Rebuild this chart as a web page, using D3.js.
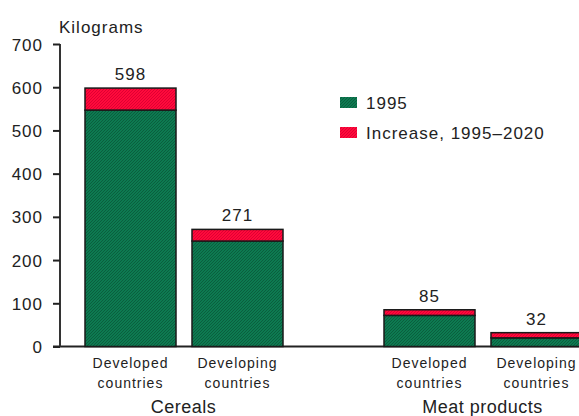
<!DOCTYPE html>
<html>
<head>
<meta charset="utf-8">
<script src="https://cdn.jsdelivr.net/npm/d3@7"></script>
<style>
  html, body { margin: 0; padding: 0; background: #fff; }
  svg { display: block; }
  text { font-family: "Liberation Sans", Arial, sans-serif; fill: #222; }
</style>
</head>
<body>
<svg id="chart" width="579" height="416"></svg>
<script>
// ---- data ----
const groups = ["Cereals", "Meat products"];
const regions = ["Developed countries", "Developing countries"];
const values1995 = [[547, 244], [72, 20]];        // per group, per region
const increase1995to2020 = [[51, 27], [13, 12]];  // per group, per region
const yTicks = [0, 100, 200, 300, 400, 500, 600, 700];
const legendLabels = ["1995", "Increase, 1995\u20132020"];

// ---- layout ----
const svg = d3.select("#chart");
const defs = svg.append("defs");

function dither(id, a, b) {
  const p = defs.append("pattern").attr("id", id).attr("patternUnits", "userSpaceOnUse")
    .attr("width", 3).attr("height", 3);
  p.append("rect").attr("width", 3).attr("height", 3).attr("fill", a);
  p.append("rect").attr("x", 0).attr("y", 0).attr("width", 1).attr("height", 1).attr("fill", b);
  p.append("rect").attr("x", 2).attr("y", 1).attr("width", 1).attr("height", 1).attr("fill", b);
  p.append("rect").attr("x", 1).attr("y", 2).attr("width", 1).attr("height", 1).attr("fill", b);
}
dither("gpat", "#0d7a51", "#0a5e3e");
dither("rpat", "#ff0a3c", "#e00032");

const y = d3.scaleLinear().domain([0, 700]).range([346.5, 44]);
const x0 = d3.scaleBand().domain(groups).range([34, 632]);
const x1 = d3.scaleBand().domain(regions).range([51, 249]).paddingInner(16 / 107);

// baseline
svg.append("line").attr("x1", 53).attr("x2", 579).attr("y1", y(0)).attr("y2", y(0))
  .attr("stroke", "#222").attr("stroke-width", 2);

// y axis
const yAxis = d3.axisLeft(y).tickValues(yTicks).tickSize(7).tickPadding(10);
const ga = svg.append("g").attr("transform", "translate(60,0)").call(yAxis);
ga.select(".domain").attr("stroke", "#333").attr("stroke-width", 2).attr("d", `M0,${y(700)}V${y(0)}`);
ga.selectAll(".tick line").attr("stroke", "#222").attr("stroke-width", 2);
ga.selectAll(".tick text").attr("font-size", 17).attr("letter-spacing", 1).attr("fill", "#222")
  .attr("font-family", "Liberation Sans, Arial, sans-serif").attr("dy", "0.36em");

svg.append("text").attr("x", 59).attr("y", 33).attr("font-size", 17).attr("letter-spacing", 1)
  .text("Kilograms");

// bars
groups.forEach((g, gi) => {
  const gx = x0(g);
  regions.forEach((r, ri) => {
    const bx = gx + x1(r);
    const bw = x1.bandwidth();
    const v = values1995[gi][ri];
    const inc = increase1995to2020[gi][ri];
    const tot = v + inc;
    svg.append("rect").attr("x", bx).attr("y", y(v)).attr("width", bw).attr("height", y(0) - y(v))
      .attr("fill", "url(#gpat)").attr("stroke", "#1a1a1a").attr("stroke-width", 1.5);
    svg.append("rect").attr("x", bx).attr("y", y(tot)).attr("width", bw).attr("height", y(v) - y(tot))
      .attr("fill", "url(#rpat)").attr("stroke", "#1a1a1a").attr("stroke-width", 1.5);
    svg.append("text").attr("x", bx + bw / 2).attr("y", y(tot) - 8).attr("text-anchor", "middle")
      .attr("font-size", 17).attr("letter-spacing", 1).text(tot);
    const words = r.split(" ");
    svg.append("text").attr("x", bx + bw / 2).attr("y", 368).attr("text-anchor", "middle")
      .attr("font-size", 14).attr("letter-spacing", 1).attr("fill", "#333").text(words[0]);
    svg.append("text").attr("x", bx + bw / 2).attr("y", 388).attr("text-anchor", "middle")
      .attr("font-size", 14).attr("letter-spacing", 1).attr("fill", "#333").text(words[1]);
  });
  svg.append("text").attr("x", gx + x0.bandwidth() / 2).attr("y", 413).attr("text-anchor", "middle")
    .attr("font-size", 18).attr("letter-spacing", 0.5).text(g);
});

// legend
const legendFills = ["url(#gpat)", "url(#rpat)"];
legendLabels.forEach((l, i) => {
  const ly = 97 + i * 30;
  svg.append("rect").attr("x", 340).attr("y", ly).attr("width", 17).attr("height", 11)
    .attr("fill", legendFills[i]);
  svg.append("text").attr("x", 366).attr("y", ly + 12).attr("font-size", 17).attr("letter-spacing", 1)
    .text(l);
});
</script>
</body>
</html>
